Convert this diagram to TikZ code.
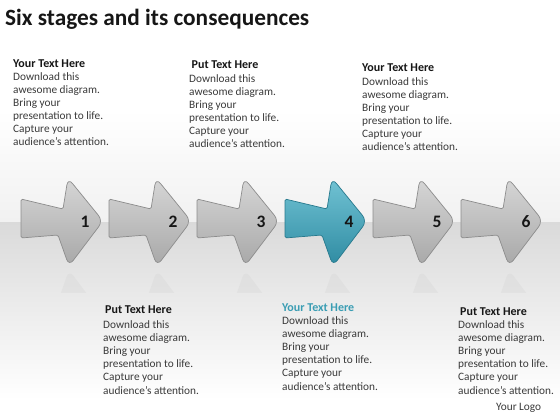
\documentclass[tikz,border=0pt]{standalone}
\usepackage{fontspec}
\setmainfont{Carlito}
\definecolor{txt}{HTML}{3A3A3A}
\definecolor{head}{HTML}{161616}
\definecolor{tealhead}{HTML}{3A9DB3}
\definecolor{grayTop}{HTML}{D6D6D6}
\definecolor{grayBot}{HTML}{A8A8A8}
\definecolor{grayEdge}{HTML}{8C8C8C}
\definecolor{blueTop}{HTML}{72C3D4}
\definecolor{blueBot}{HTML}{2E8BA2}
\definecolor{blueEdge}{HTML}{27798D}
\definecolor{bandTop}{HTML}{DADADA}
\definecolor{upperBot}{HTML}{F1F1F1}
\tikzset{
  grayarrow/.style={top color=grayTop, bottom color=grayBot, draw=grayEdge, line width=0.7pt},
  bluearrow/.style={top color=blueTop, bottom color=blueBot, draw=blueEdge, line width=0.7pt},
  reflect/.style={fill=gray, opacity=0.06},
  num/.style={font=\fontsize{17.5}{17.5}\selectfont\bfseries, text=head, inner sep=0pt},
  blk/.style={anchor=base west, inner sep=0pt, text=txt, font=\fontsize{11.3}{13.1}\selectfont},
  ttl/.style={anchor=base west, inner sep=0pt, text=head, font=\fontsize{23.3}{23.3}\selectfont\bfseries},
}
\newcommand{\arrowshape}{(21,199) [rounded corners=1.5pt]-- (63,209) [rounded corners=7pt]-- (68,178) -- (103,221) -- (69,266) [rounded corners=1.5pt]-- (58,235) -- (21,238) -- cycle}
\newcommand{\txtblock}[4]{\vtop{\baselineskip=13.1pt
  \hbox{\hspace{#4}\color{#2}\fontsize{12}{12}\selectfont\bfseries #1}\vskip #3
  \hbox{Download this}\hbox{awesome diagram.}\hbox{Bring your}\hbox{presentation to life.}\hbox{Capture your}\hbox{audience’s attention.}}}
\begin{document}
\begin{tikzpicture}[x=1pt,y=-1pt]
\useasboundingbox (0,0) rectangle (560,420);
% background
\fill[white] (0,0) rectangle (560,420);
\shade[top color=white, bottom color=upperBot] (0,110) rectangle (560,222);
\shade[top color=bandTop, bottom color=white] (0,222) rectangle (560,400);
% title
\node[ttl] (title) at (5,26) {Six stages and its consequences};
% reflections
\begin{scope}
  \clip (0,268) rectangle (560,292);
  \foreach \i in {0,...,5}{
    \begin{scope}[xshift=88*\i pt, shift={(0,536)}, yscale=-1]
      \path[reflect] \arrowshape;
    \end{scope}
  }
\end{scope}
% arrows
\foreach \i in {0,1,2,4,5}{
  \begin{scope}[xshift=88*\i pt]
    \path[grayarrow] \arrowshape;
  \end{scope}
}
\begin{scope}[xshift=264pt]
  \path[bluearrow] \arrowshape;
\end{scope}
% numbers
\node[num] (n1) at (85,222) {1};
\node[num] (n2) at (173,222) {2};
\node[num] (n3) at (261,222) {3};
\node[num] (n4) at (349,222) {4};
\node[num] (n5) at (437,222) {5};
\node[num] (n6) at (526,222) {6};
% text blocks
\node[blk] (b1) at (13,67) {\txtblock{Your Text Here}{head}{0.4pt}{0pt}};
\node[blk] (b2) at (189,69) {\txtblock{Put Text Here}{head}{0.4pt}{2.5pt}};
\node[blk] (b3) at (362,72) {\txtblock{Your Text Here}{head}{0.4pt}{0pt}};
\node[blk] (b4) at (103,313) {\txtblock{Put Text Here}{head}{2.4pt}{2pt}};
\node[blk] (b5) at (282,311) {\txtblock{Your Text Here}{tealhead}{0.4pt}{0pt}};
\node[blk] (b6) at (458,315) {\txtblock{Put Text Here}{head}{0.4pt}{2pt}};
\node[blk] (logo) at (496,410.5) {Your Logo};
\end{tikzpicture}
\end{document}
